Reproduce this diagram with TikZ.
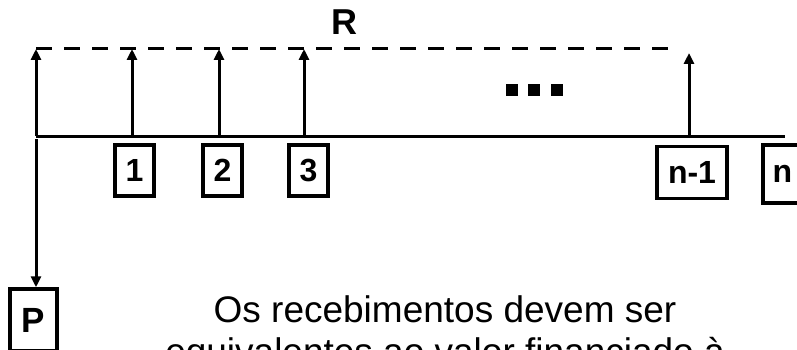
\documentclass[tikz,border=0pt]{standalone}
\usepackage{fontspec}
\setmainfont{Liberation Sans}
\usetikzlibrary{arrows.meta}
\begin{document}
\begin{tikzpicture}[x=1pt,y=-1pt,
  thick line/.style={line width=3pt},
  arr/.style={line width=3pt,-{Triangle[length=11pt,width=10pt]}},
  numbox/.style={draw,line width=3.5pt,inner sep=0pt,font=\fontsize{32}{32}\selectfont\bfseries},
  dotsq/.style={fill=black}]
\path[use as bounding box] (0,0) rectangle (797,350);
\clip (0,0) rectangle (797,350);
% axis coordinates
\coordinate (a0) at (36,136);
\coordinate (a1) at (132,136);
\coordinate (a2) at (219,136);
\coordinate (a3) at (304,136);
\coordinate (an1) at (689,136);
\coordinate (aend) at (785,136);
\coordinate (top) at (36,49);
\coordinate (topend) at (668,49);
\coordinate (tip) at (36,53);
% axis
\draw[thick line] (a0) -- (aend);
% dashed line
\draw[thick line,dash pattern=on 16pt off 12pt] (top) -- (topend);
\node[font=\fontsize{36}{36}\selectfont\bfseries] (R) at (344,22) {R};
% up arrows
\draw[arr] (a0) -- (top);
\draw[arr] (a1) -- (a1 |- top);
\draw[arr] (a2) -- (a2 |- top);
\draw[arr] (a3) -- (a3 |- top);
\draw[arr] (an1) -- (an1 |- tip);
% dots
\fill[dotsq] (506,84) rectangle (518,96);
\fill[dotsq] (528,84) rectangle (540,96);
\fill[dotsq] (551,84) rectangle (563,96);
% boxes
\node[numbox,minimum width=39pt,minimum height=51pt] (b1) at (134.5,170.5) {1};
\node[numbox,minimum width=39pt,minimum height=51pt] (b2) at (222.5,170.5) {2};
\node[numbox,minimum width=39pt,minimum height=51pt] (b3) at (308.5,170.5) {3};
\node[numbox,minimum width=70pt,minimum height=52pt] (bn1) at (692,172.5) {n-1};
\node[numbox,minimum width=39pt,minimum height=58pt] (bn) at (782.5,174) {n};
\node[numbox,minimum width=47pt,minimum height=62pt,font=\fontsize{35}{35}\selectfont\bfseries] (P) at (33.5,320) {P};
% down arrow
\coordinate (d0) at (36,139);
\draw[arr] (d0) -- (d0 |- P.north);
% text
\node[anchor=base,align=center,font=\fontsize{37}{42}\selectfont,inner sep=0pt] (txt) at (445,364)
  {Os recebimentos devem ser\\equivalentes ao valor financiado à};
\end{tikzpicture}
\end{document}
